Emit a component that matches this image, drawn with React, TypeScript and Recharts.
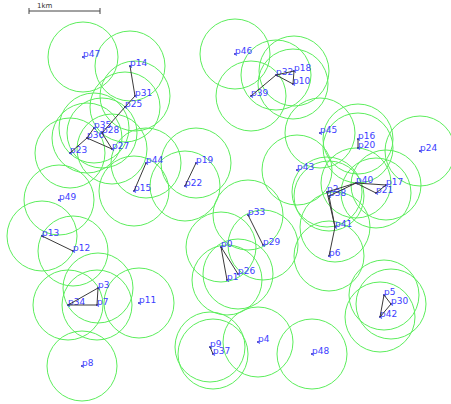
import { ReferenceLine, Scatter, ScatterChart, XAxis, YAxis } from 'recharts'

// Map extent in grid units (71 units = 1 km)
const MAP_W = 451
const MAP_H = 404
const UNITS_PER_KM = 71
const RADIO_RANGE = 35 // grid units, ~0.5 km

const nodeNames = [
  'p0', 'p1', 'p2', 'p3', 'p4', 'p5', 'p6', 'p7', 'p8', 'p9',
  'p10', 'p11', 'p12', 'p13', 'p14', 'p15', 'p16', 'p17', 'p18', 'p19',
  'p20', 'p21', 'p22', 'p23', 'p24', 'p25', 'p26', 'p27', 'p28', 'p29',
  'p30', 'p31', 'p32', 'p33', 'p34', 'p35', 'p36', 'p37', 'p38', 'p39',
  'p40', 'p41', 'p42', 'p43', 'p44', 'p45', 'p46', 'p47', 'p48', 'p49',
]
const nodeX = [
  221, 227, 327, 98, 258, 384, 329, 97, 82, 210,
  293, 139, 73, 42, 130, 134, 358, 386, 294, 196,
  358, 376, 185, 70, 420, 125, 238, 112, 102, 263,
  391, 135, 276, 248, 68, 94, 87, 213, 329, 251,
  356, 335, 380, 297, 146, 320, 235, 83, 312, 59,
]
const nodeY = [
  247, 280, 192, 288, 342, 295, 256, 305, 366, 347,
  84, 303, 251, 236, 66, 191, 139, 185, 71, 163,
  148, 193, 186, 153, 151, 107, 274, 149, 133, 245,
  304, 96, 75, 215, 305, 128, 138, 354, 196, 96,
  183, 227, 317, 170, 163, 133, 54, 57, 354, 200,
]

// links between nodes in range of each other
const links: [string, string][] = [
  ['p14', 'p31'], ['p31', 'p25'], ['p25', 'p28'], ['p28', 'p27'],
  ['p36', 'p27'], ['p23', 'p36'], ['p35', 'p36'],
  ['p39', 'p32'], ['p32', 'p18'], ['p18', 'p10'], ['p10', 'p32'],
  ['p16', 'p20'], ['p44', 'p15'], ['p19', 'p22'], ['p13', 'p12'],
  ['p33', 'p29'], ['p0', 'p1'], ['p0', 'p26'], ['p9', 'p37'],
  ['p3', 'p34'], ['p3', 'p7'], ['p7', 'p34'],
  ['p5', 'p30'], ['p30', 'p42'], ['p42', 'p5'],
  ['p2', 'p40'], ['p38', 'p40'], ['p40', 'p17'], ['p40', 'p21'], ['p21', 'p17'],
  ['p2', 'p41'], ['p38', 'p41'], ['p41', 'p6'],
]

const scaleBar = { x: 29, y: 11, km: 1 }

const nodes = nodeNames.map((name, i) => ({ name, x: nodeX[i], y: nodeY[i] }))
const nodeByName = Object.fromEntries(nodes.map((n) => [n.name, n]))

const pxPerUnit = MAP_W / MAP_W

function RangeCircle(props: any) {
  return (
    <circle
      cx={props.cx}
      cy={props.cy}
      r={RADIO_RANGE * pxPerUnit}
      fill="none"
      stroke="#5cee5c"
      strokeWidth={1}
    />
  )
}

function NodeMark(props: any) {
  return (
    <g>
      <circle cx={props.cx} cy={props.cy} r={1} fill="#2626b8" />
      <text
        x={props.cx}
        y={props.cy - 0.5}
        fontSize={9}
        fontFamily="DejaVu Sans, sans-serif"
        fill="#3c3cff"
      >
        {props.payload.name}
      </text>
    </g>
  )
}

const barEnd = scaleBar.x + scaleBar.km * UNITS_PER_KM

export default function App() {
  return (
    <div style={{ width: MAP_W, height: MAP_H }}>
      <style>{'body{margin:0}'}</style>
      <ScatterChart width={MAP_W} height={MAP_H} margin={{ top: 0, right: 0, bottom: 0, left: 0 }}>
        <XAxis type="number" dataKey="x" domain={[0, MAP_W]} hide />
        <YAxis type="number" dataKey="y" domain={[0, MAP_H]} reversed hide />
        <Scatter data={nodes} shape={RangeCircle} isAnimationActive={false} />
        <Scatter data={nodes} shape={NodeMark} isAnimationActive={false} />
        {links.map(([a, b], i) => (
          <Scatter
            key={`link-${i}`}
            data={[nodeByName[a], nodeByName[b]]}
            line={{ stroke: '#3a3a3a', strokeWidth: 1 }}
            shape={() => <g />}
            isAnimationActive={false}
          />
        ))}
        <ReferenceLine
          segment={[{ x: scaleBar.x, y: scaleBar.y }, { x: barEnd, y: scaleBar.y }]}
          stroke="#444"
          strokeWidth={1}
          label={({ viewBox }: any) => (
            <text x={viewBox.x + 8} y={viewBox.y - 3} fontSize={7} fontFamily="DejaVu Sans, sans-serif" fill="#333">
              {scaleBar.km}km
            </text>
          )}
        />
        <ReferenceLine
          segment={[{ x: scaleBar.x, y: scaleBar.y - 3 }, { x: scaleBar.x, y: scaleBar.y + 3 }]}
          stroke="#444"
        />
        <ReferenceLine
          segment={[{ x: barEnd, y: scaleBar.y - 3 }, { x: barEnd, y: scaleBar.y + 3 }]}
          stroke="#444"
        />
      </ScatterChart>
    </div>
  )
}
